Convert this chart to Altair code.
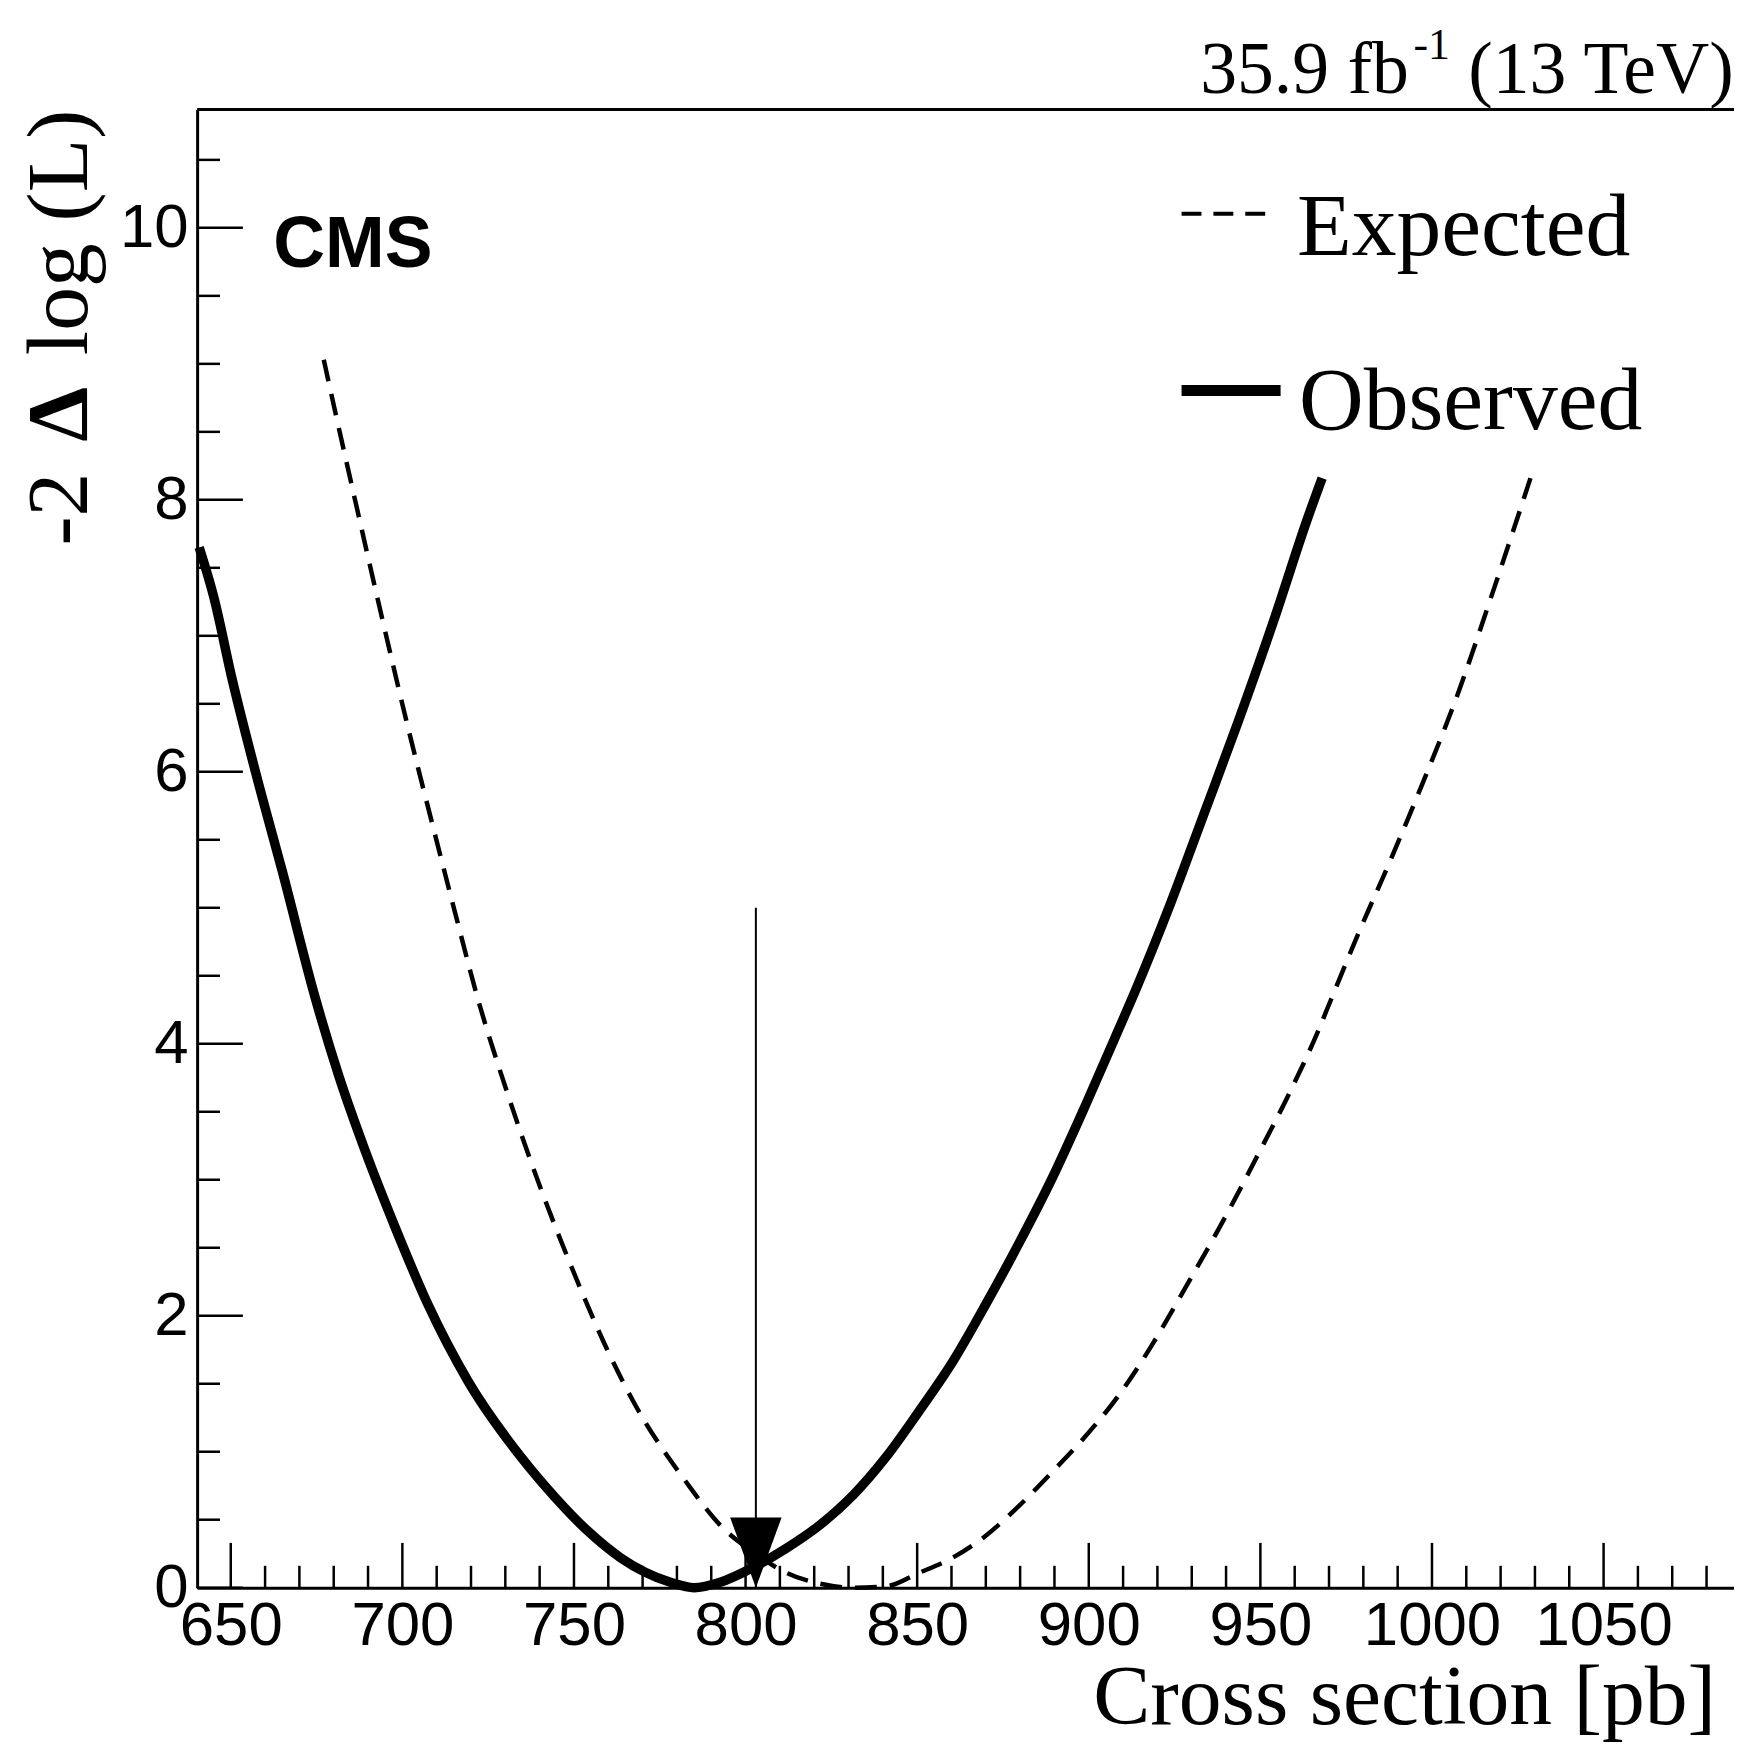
import altair as alt
import pandas as pd

# ---------------- data ----------------
# Observed -2 Delta log(L) curve
obs_x = [640.8, 645.0, 650.5, 657.3, 665.0, 674.7, 681.4, 689.2, 697.9, 707.5,
         719.1, 734.6, 744.3, 753.9, 763.6, 778.1, 785.0, 792.6, 802.3, 811.9,
         821.6, 831.3, 840.9, 850.6, 860.3, 869.9, 879.6, 889.3, 898.9, 908.6,
         913.4, 924.1, 933.7, 943.4, 954.0, 963.7, 968.0]
obs_y = [7.65, 7.29, 6.67, 5.99, 5.27, 4.33, 3.77, 3.21, 2.65, 2.08,
         1.52, 0.96, 0.67, 0.42, 0.22, 0.04, 0.00, 0.04, 0.15, 0.29,
         0.46, 0.68, 0.96, 1.30, 1.66, 2.08, 2.53, 3.01, 3.54, 4.10,
         4.38, 5.05, 5.70, 6.36, 7.12, 7.86, 8.16]

# Expected curve
exp_x = [677.1, 680.5, 686.3, 694.0, 701.7, 709.5, 715.3, 722.0, 730.7, 740.4,
         749.1, 759.7, 767.5, 782.9, 792.6, 802.3, 811.9, 821.6, 831.3, 840.9,
         850.6, 860.3, 869.9, 879.6, 889.3, 898.9, 908.6, 918.3, 928.0, 940.5,
         949.2, 958.9, 966.6, 970.5, 978.2, 987.9, 997.5, 1007.2, 1016.9, 1026.5,
         1028.7]
exp_y = [9.03, 8.64, 7.99, 7.14, 6.32, 5.54, 4.97, 4.33, 3.63, 2.93,
         2.37, 1.75, 1.36, 0.77, 0.46, 0.26, 0.11, 0.03, 0.00, 0.01,
         0.11, 0.22, 0.38, 0.60, 0.85, 1.11, 1.41, 1.78, 2.20, 2.76,
         3.18, 3.66, 4.08, 4.32, 4.79, 5.35, 5.93, 6.55, 7.26, 7.99,
         8.16]

# Arrow marking the measured value
arrow_x = [803.0]
arrow_top = [5.0]
arrow_tip = [0.0]

# Axis ticks
x_major = [650, 700, 750, 800, 850, 900, 950, 1000, 1050]
x_minor = [660, 670, 680, 690, 710, 720, 730, 740, 760, 770, 780, 790,
           810, 820, 830, 840, 860, 870, 880, 890, 910, 920, 930, 940,
           960, 970, 980, 990, 1010, 1020, 1030, 1040, 1060, 1070, 1080]
y_major = [0, 2, 4, 6, 8, 10]
y_minor = [0.5, 1.0, 1.5, 2.5, 3.0, 3.5, 4.5, 5.0, 5.5, 6.5, 7.0, 7.5,
           8.5, 9.0, 9.5, 10.5]

x_domain = [640.2, 1088.0]
y_domain = [0.0, 10.87]

# ---------------- chart ----------------
W, H = 1544, 1485
SERIF = "Liberation Serif"
SANS = "Liberation Sans"

xs = alt.Scale(domain=x_domain, nice=False, zero=False)
ys = alt.Scale(domain=y_domain, nice=False, zero=False)

x_axis = alt.Axis(values=x_major, format="d", labelFont=SANS, labelFontSize=62,
                  labelColor="black", labelPadding=8, labelFlush=False,
                  labelOverlap=False, ticks=False, grid=False,
                  domainColor="black", domainWidth=3, title=None)
y_axis = alt.Axis(values=y_major, format="d", labelFont=SANS, labelFontSize=62,
                  labelColor="black", labelPadding=9, labelFlush=False,
                  labelOverlap=False, labelBaseline="middle", ticks=False,
                  grid=False, domainColor="black", domainWidth=3, title=None)


def X(field):
    return alt.X(field, type="quantitative", scale=xs, axis=x_axis)


def Y(field):
    return alt.Y(field, type="quantitative", scale=ys, axis=y_axis)


obs_df = pd.DataFrame({"x": obs_x, "y": obs_y})
exp_df = pd.DataFrame({"x": exp_x, "y": exp_y})
arrow_df = pd.DataFrame({"x": arrow_x, "top": arrow_top, "tip": arrow_tip})

observed = alt.Chart(obs_df).mark_line(
    color="black", strokeWidth=9.5, interpolate="monotone").encode(
    x=X("x"), y=Y("y"))
expected = alt.Chart(exp_df).mark_line(
    color="black", strokeWidth=4.5, strokeDash=[22, 13],
    interpolate="monotone").encode(x=X("x"), y=Y("y"))


def xticks(vals, length):
    return alt.Chart(pd.DataFrame({"x": vals})).mark_rule(
        color="black", strokeWidth=2.5).encode(
        x=X("x"), y=alt.value(H), y2=alt.value(H - length))


def yticks(vals, length):
    return alt.Chart(pd.DataFrame({"y": vals})).mark_rule(
        color="black", strokeWidth=2.5).encode(
        y=Y("y"), x=alt.value(0), x2=alt.value(length))


one = alt.Data(values=[{"a": 1}])

top_frame = alt.Chart(one).mark_rule(color="black", strokeWidth=3).encode(
    x=alt.value(0), x2=alt.value(W), y=alt.value(0))

arrow_line = alt.Chart(arrow_df).mark_rule(color="black", strokeWidth=2).encode(
    x=X("x"), y=Y("top"), y2="tip:Q")
arrow_head = alt.Chart(arrow_df).mark_point(
    shape="M -0.733 -2 L 0.733 -2 L 0 0 Z", size=4970, filled=True,
    color="black", opacity=1, strokeWidth=0).encode(x=X("x"), y=Y("tip"))


def txt(s, x, y, size, font, weight="normal", align="left", angle=0):
    return alt.Chart(one).mark_text(
        text=s, font=font, fontSize=size, fontWeight=weight, align=align,
        baseline="alphabetic", angle=angle, color="black").encode(
        x=alt.value(x), y=alt.value(y))


texts = [
    txt("35.9 fb", 1007.7, -17, 74, SERIF),
    txt("-1", 1222, -51, 44, SERIF),
    txt("(13 TeV)", 1277, -17, 74, SERIF),
    txt("CMS", 76.5, 158, 72, SANS, weight="bold"),
    txt("Expected", 1105, 145.7, 90, SERIF),
    txt("Observed", 1107, 320.7, 90, SERIF),
    txt("Cross section [pb]", 1526, 1622, 86, SERIF, align="right"),
    txt("log (L)", -111, 0, 88, SERIF, align="right", angle=270),
    txt("\u0394", -111, 278.6, 88, SERIF, weight="bold", align="right", angle=270),
    txt("-2", -111, 364.7, 88, SERIF, align="right", angle=270),
]

leg_exp = alt.Chart(one).mark_rule(color="black", strokeWidth=4,
                                   strokeDash=[20, 12]).encode(
    x=alt.value(989), x2=alt.value(1074), y=alt.value(104.7))
leg_obs = alt.Chart(one).mark_rule(color="black", strokeWidth=11).encode(
    x=alt.value(989), x2=alt.value(1088.5), y=alt.value(282.3))

chart = alt.layer(
    observed, expected,
    xticks(x_minor, 22), xticks(x_major, 45),
    yticks(y_minor, 23), yticks(y_major, 46),
    top_frame,
    arrow_line, arrow_head,
    leg_exp, leg_obs,
    *texts,
).properties(
    width=W, height=H,
    autosize=alt.AutoSizeParams(type="none"),
    padding={"left": 190, "top": 98, "right": 0, "bottom": 156},
).configure_view(strokeWidth=0)

chart.save("out.html", embed_options={"renderer": "svg", "actions": False})
